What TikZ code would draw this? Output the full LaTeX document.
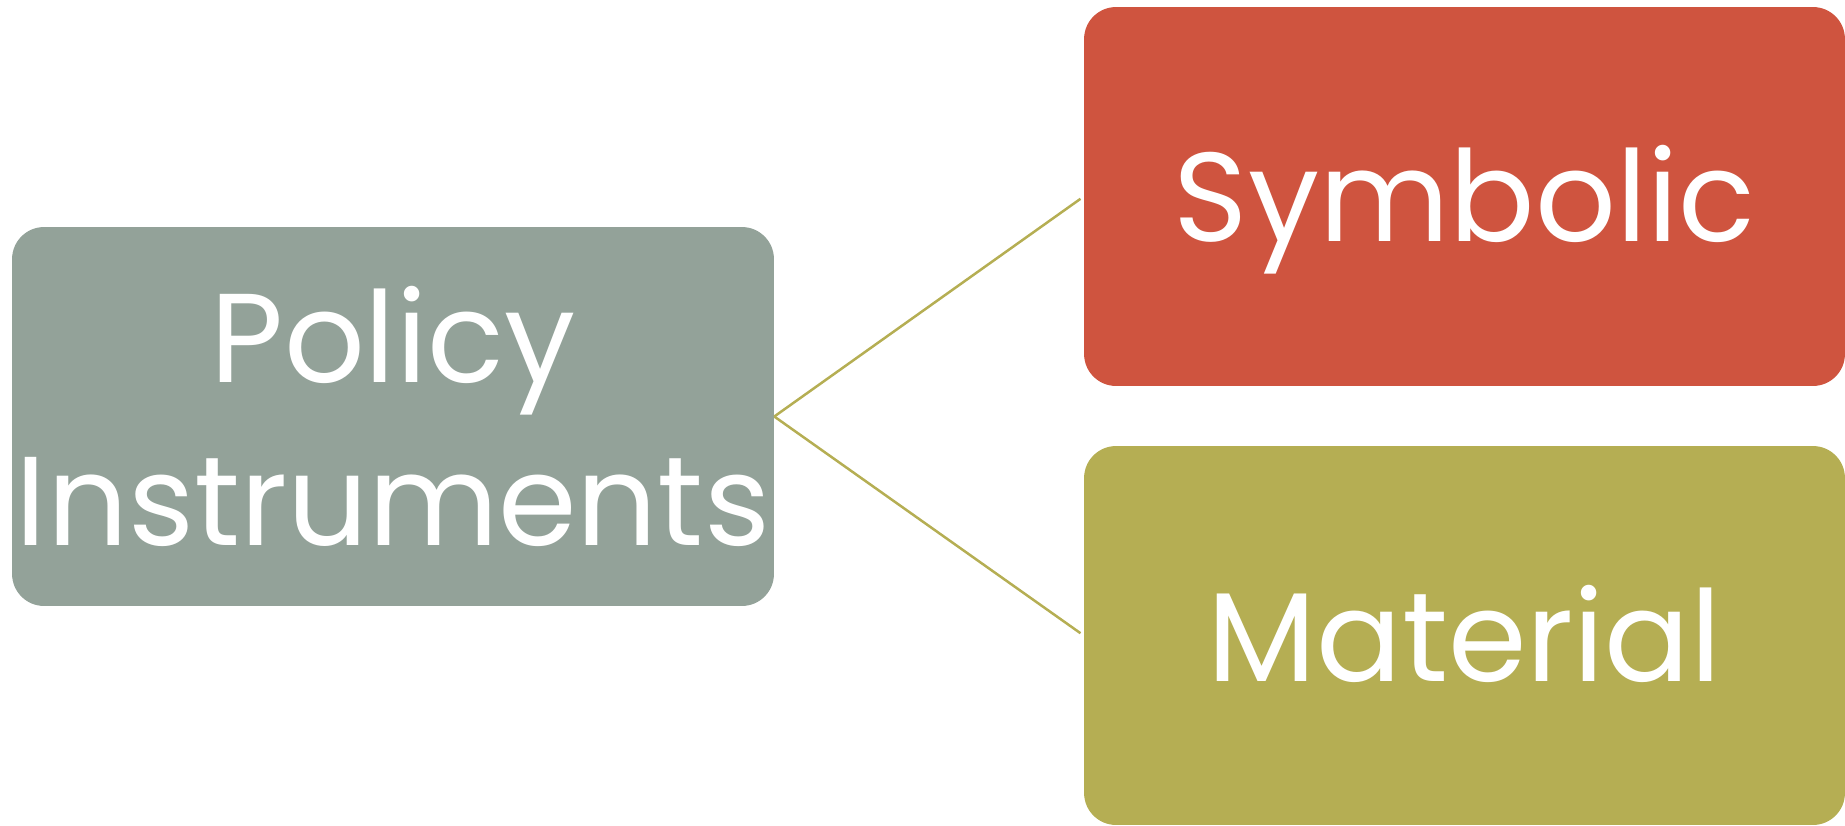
\documentclass[tikz,border=0pt]{standalone}
\usepackage{fontspec}
\setmainfont{Poppins}
\usepackage{tikz}
\usetikzlibrary{positioning}
\definecolor{sage}{HTML}{93A299}
\definecolor{brick}{HTML}{CF543F}
\definecolor{moss}{HTML}{B5AE53}
\tikzstyle{block} = [rectangle, rounded corners=0.64cm, text=white,
    font=\fontsize{72}{93}\selectfont, align=center, inner sep=0pt,
    minimum width=15.22cm, minimum height=7.58cm]
\tikzstyle{leaf} = [block, text height=2.46cm, text depth=0.64cm]
\tikzstyle{link} = [draw=moss, line width=0.05cm, shorten >=0.08cm]

\begin{document}
\begin{tikzpicture}[x=0.02cm, y=-0.02cm]
    % We fix the page to the size of the slide
    \useasboundingbox (0,0) rectangle (1845,825);
    % We start by placing the blocks
    \node [block, fill=sage, minimum width=15.24cm] (policy) at (393,416.5)
        {Policy\\Instruments};
    \node [leaf, fill=brick] (symbolic) at (1464.5,196.5) {Symbolic};
    \node [leaf, fill=moss] (material) at (1464.5,635.5) {Material};

    % Then the two branches from the root to its children
    \draw [link] (policy.east) -- (symbolic.west);
    \draw [link] (policy.east) -- (material.west);
\end{tikzpicture}
\end{document}
